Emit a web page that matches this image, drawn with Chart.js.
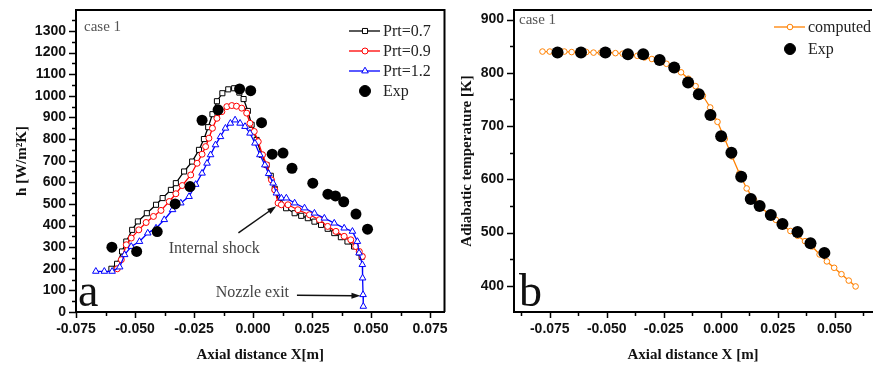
<!DOCTYPE html>
<html>
<head>
<meta charset="utf-8">
<script src="https://cdn.jsdelivr.net/npm/chart.js@4.4.1/dist/chart.umd.min.js"></script>
<style>
    html, body { margin: 0; padding: 0; background: #fff; }
    #wrap { position: relative; width: 878px; height: 366px; overflow: hidden; }
    canvas { position: absolute; top: 0; }
    #chartA { left: 0; }
    #chartB { left: 450px; }
</style>
</head>
<body>
<div id="wrap">
    <canvas id="chartA" width="450" height="366"></canvas>
    <canvas id="chartB" width="428" height="366"></canvas>
</div>
<script>
// ---- panel a : heat transfer coefficient ----
const prt07X = [-0.0600,-0.0576,-0.0555,-0.0537,-0.0512,-0.0488,-0.0450,-0.0411,-0.0383,-0.0348,-0.0327,-0.0292,-0.0258,-0.0229,-0.0208,-0.0190,-0.0172,-0.0153,-0.0130,-0.0105,-0.0080,-0.0058,-0.0040,-0.0022,-0.0006,0.0015,0.0036,0.0057,0.0075,0.0092,0.0113,0.0140,0.0176,0.0204,0.0232,0.0260,0.0288,0.0316,0.0344,0.0372,0.0400,0.0428,0.0449,0.0460];
const prt07Y = [200,223,280,326,380,419,457,496,527,565,596,650,696,750,800,855,915,975,1012,1030,1035,1015,985,930,866,796,727,680,630,570,504,480,457,445,434,418,403,385,365,346,326,303,275,255];

const prt09X = [-0.0575,-0.0558,-0.0537,-0.0516,-0.0484,-0.0453,-0.0422,-0.0390,-0.0355,-0.0327,-0.0300,-0.0264,-0.0237,-0.0216,-0.0201,-0.0187,-0.0172,-0.0153,-0.0132,-0.0111,-0.0090,-0.0070,-0.0048,-0.0027,-0.0013,0.0005,0.0022,0.0040,0.0057,0.0078,0.0092,0.0106,0.0120,0.0148,0.0190,0.0239,0.0281,0.0316,0.0351,0.0386,0.0414,0.0435,0.0450,0.0463];
const prt09Y = [200,242,311,342,380,414,442,470,511,547,585,634,688,730,765,804,850,896,927,950,955,952,943,920,873,835,788,727,681,611,565,504,496,496,473,450,427,396,373,350,334,303,280,257];

const prt12X = [-0.0666,-0.0630,-0.0597,-0.0565,-0.0544,-0.0516,-0.0481,-0.0446,-0.0411,-0.0376,-0.0341,-0.0306,-0.0271,-0.0243,-0.0216,-0.0195,-0.0180,-0.0159,-0.0138,-0.0117,-0.0096,-0.0076,-0.0055,-0.0034,-0.0013,0.0008,0.0029,0.0050,0.0066,0.0085,0.0099,0.0120,0.0141,0.0176,0.0218,0.0260,0.0302,0.0344,0.0386,0.0421,0.0442,0.0449,0.0463,0.0464,0.0466,0.0467];
const prt12Y = [188,188,188,208,265,303,326,365,388,427,473,504,534,590,642,688,727,773,811,850,873,888,873,858,827,781,727,680,640,596,550,527,527,504,481,457,434,411,388,373,326,273,219,157,80,26];

const expAX = [-0.0598,-0.0493,-0.0406,-0.0330,-0.0267,-0.0216,-0.0148,-0.0057,-0.0010,0.0036,0.0081,0.0127,0.0165,0.0253,0.0317,0.0349,0.0384,0.0436,0.0485];
const expAY = [300,280,372,500,580,887,935,1032,1024,876,730,735,665,596,545,537,510,453,383];

const xMajorA = [-0.075,-0.05,-0.025,0,0.025,0.05,0.075];
const xMinorA = [-0.0625,-0.0375,-0.0125,0.0125,0.0375,0.0625];
const yMajorA = [0,100,200,300,400,500,600,700,800,900,1000,1100,1200,1300];
const yMinorA = [50,150,250,350,450,550,650,750,850,950,1050,1150,1250,1350];

// ---- panel b : adiabatic wall temperature ----
const compX = [-0.0782,-0.0750,-0.0718,-0.0686,-0.0654,-0.0622,-0.0590,-0.0558,-0.0526,-0.0494,-0.0462,-0.0430,-0.0398,-0.0366,-0.0334,-0.0302,-0.0270,-0.0238,-0.0206,-0.0174,-0.0142,-0.0110,-0.0078,-0.0046,-0.0014,0.0018,0.0050,0.0082,0.0114,0.0146,0.0178,0.0210,0.0242,0.0274,0.0306,0.0338,0.0370,0.0402,0.0434,0.0466,0.0498,0.0530,0.0562,0.0592];
const compY = [840,840,840,840,839,839,839,838,838,838,837,836,834,832,829,826,822,817,810,801,789,775,757,735,708,676,643,611,583,562,547,535,524,513,503,494,484,474,459,446,434,422,410,399];

const expBX = [-0.0716,-0.0613,-0.0506,-0.0407,-0.0340,-0.0268,-0.0204,-0.0143,-0.0096,-0.0045,0.0002,0.0047,0.0090,0.0132,0.0171,0.0220,0.0271,0.0337,0.0394,0.0455];
const expBY = [838,838,838,835,835,824,810,782,760,721,681,650,605,563,550,533,516,501,480,462];

const xMajorB = [-0.075,-0.05,-0.025,0,0.025,0.05];
const xMinorB = [-0.0875,-0.0625,-0.0375,-0.0125,0.0125,0.0375,0.0625];
const yMajorB = [400,500,600,700,800,900];
const yMinorB = [450,550,650,750,850];

const SERIF = '"Liberation Serif", "Times New Roman", serif';
const SANS = '"Liberation Sans", Arial, sans-serif';

function toPoints(xs, ys) {
    return xs.map((x, i) => ({x: x, y: ys[i]}));
}

function tickList(major, minor) {
    let list = major.map(v => ({value: v, isMajor: true}))
        .concat(minor.map(v => ({value: v, isMajor: false})));
    list.sort((a, b) => a.value - b.value);
    return list;
}

function drawMarker(ctx, style, x, y, r, stroke, fill) {
    ctx.save();
    ctx.lineWidth = 1;
    ctx.strokeStyle = stroke;
    ctx.fillStyle = fill;
    ctx.beginPath();
    if (style === 'rect') {
        let s = r * Math.SQRT2 / 2;
        ctx.rect(x - s, y - s, 2 * s, 2 * s);
    } else if (style === 'triangle') {
        ctx.moveTo(x, y - r);
        ctx.lineTo(x + r * 0.87, y + r * 0.5);
        ctx.lineTo(x - r * 0.87, y + r * 0.5);
        ctx.closePath();
    } else {
        ctx.arc(x, y, r, 0, Math.PI * 2);
    }
    ctx.fill();
    ctx.stroke();
    ctx.restore();
}

function drawArrow(ctx, x1, y1, x2, y2) {
    let ang = Math.atan2(y2 - y1, x2 - x1);
    ctx.save();
    ctx.strokeStyle = '#111';
    ctx.fillStyle = '#111';
    ctx.lineWidth = 1.5;
    ctx.beginPath();
    ctx.moveTo(x1, y1);
    ctx.lineTo(x2 - 6 * Math.cos(ang), y2 - 6 * Math.sin(ang));
    ctx.stroke();
    ctx.beginPath();
    ctx.moveTo(x2, y2);
    ctx.lineTo(x2 - 9 * Math.cos(ang) + 3 * Math.sin(ang), y2 - 9 * Math.sin(ang) - 3 * Math.cos(ang));
    ctx.lineTo(x2 - 9 * Math.cos(ang) - 3 * Math.sin(ang), y2 - 9 * Math.sin(ang) + 3 * Math.cos(ang));
    ctx.closePath();
    ctx.fill();
    ctx.restore();
}

// frame, minor/major tick marks, notes and legend
function makeDeco(cfg) {
    return {
        id: 'deco',
        afterDraw(chart) {
            const {ctx, chartArea: a, scales: {x, y}} = chart;
            ctx.save();
            ctx.strokeStyle = '#000';
            ctx.lineWidth = 2;
            ctx.beginPath();
            ctx.moveTo(a.left, a.top);
            ctx.lineTo(a.right, a.top);
            if (cfg.rightBorder) ctx.lineTo(a.right, a.bottom);
            ctx.stroke();

            ctx.lineWidth = 1.5;
            ctx.beginPath();
            x.ticks.forEach(t => {
                let px = Math.round(x.getPixelForValue(t.value)) + 0.5;
                ctx.moveTo(px, a.bottom);
                ctx.lineTo(px, a.bottom + (t.isMajor ? 6 : 4));
            });
            y.ticks.forEach(t => {
                let py = Math.round(y.getPixelForValue(t.value)) + 0.5;
                ctx.moveTo(a.left, py);
                ctx.lineTo(a.left - (t.isMajor ? 7 : 4), py);
            });
            ctx.stroke();

            ctx.textBaseline = 'middle';
            ctx.textAlign = 'left';
            cfg.notes.forEach(n => {
                ctx.font = n.font;
                ctx.fillStyle = n.color;
                ctx.fillText(n.text, a.left + n.dx, a.top + n.dy);
            });
            (cfg.dataNotes || []).forEach(n => {
                ctx.font = n.font;
                ctx.fillStyle = n.color;
                ctx.fillText(n.text, x.getPixelForValue(n.x), y.getPixelForValue(n.y));
            });
            (cfg.arrows || []).forEach(r => {
                drawArrow(ctx, x.getPixelForValue(r[0]), y.getPixelForValue(r[1]),
                    x.getPixelForValue(r[2]), y.getPixelForValue(r[3]));
            });

            // legend (canvas coordinates)
            const lg = cfg.legend;
            chart.data.datasets.forEach((ds, i) => {
                let ly = lg.y + i * lg.gap;
                let mx = lg.x + 16;
                if (ds.showLine) {
                    ctx.strokeStyle = ds.borderColor;
                    ctx.lineWidth = ds.borderWidth;
                    ctx.beginPath();
                    ctx.moveTo(lg.x, ly);
                    ctx.lineTo(lg.x + 31, ly);
                    ctx.stroke();
                }
                let r = ds.showLine ? ds.pointRadius : 5.5;
                drawMarker(ctx, ds.pointStyle, mx, ly, r, ds.pointBorderColor, ds.pointBackgroundColor);
                ctx.font = '16px ' + SERIF;
                ctx.fillStyle = '#222';
                ctx.fillText(ds.label, lg.x + 34, ly + 1);
            });
            ctx.restore();
        }
    };
}

function lineSet(label, xs, ys, color, style, radius, order) {
    return {
        label: label,
        data: toPoints(xs, ys),
        showLine: true,
        borderColor: color,
        borderWidth: 1.3,
        pointStyle: style,
        pointRadius: radius,
        pointBorderWidth: 1,
        pointBorderColor: color,
        pointBackgroundColor: '#fff',
        order: order
    };
}

function expSet(xs, ys, radius) {
    return {
        label: 'Exp',
        data: toPoints(xs, ys),
        showLine: false,
        pointStyle: 'circle',
        pointRadius: radius,
        pointBorderWidth: 0,
        pointBorderColor: '#000',
        pointBackgroundColor: '#000',
        order: 0
    };
}

function axisX(min, max, major, minor, title) {
    return {
        type: 'linear',
        min: min,
        max: max,
        afterBuildTicks: s => { s.ticks = tickList(major, minor); },
        afterFit: s => { s.height = 54; s.paddingLeft = 0; s.paddingRight = 0; },
        grid: {display: false, drawTicks: false},
        border: {display: true, color: '#000', width: 2},
        ticks: {
            autoSkip: false,
            maxRotation: 0,
            padding: 9,
            color: '#111',
            font: {family: SANS, size: 14, weight: 'bold'},
            callback: (v, i, ticks) => ticks[i].isMajor ? v.toFixed(3) : ''
        },
        title: {
            display: true,
            text: title,
            color: '#111',
            font: {family: SERIF, size: 15, weight: 'bold'},
            padding: {top: 0, bottom: 2}
        }
    };
}

function axisY(min, max, major, minor, width, title, gap) {
    return {
        type: 'linear',
        min: min,
        max: max,
        afterBuildTicks: s => { s.ticks = tickList(major, minor); },
        afterFit: s => { s.width = width; s.paddingTop = 0; s.paddingBottom = 0; },
        grid: {display: false, drawTicks: false},
        border: {display: true, color: '#000', width: 2},
        ticks: {
            autoSkip: false,
            padding: 10,
            color: '#111',
            font: {family: SANS, size: 14, weight: 'bold'},
            callback: (v, i, ticks) => ticks[i].isMajor ? String(v) : ''
        },
        title: {
            display: true,
            text: title,
            color: '#111',
            font: {family: SERIF, size: 15, weight: 'bold'},
            padding: {top: gap, bottom: 0}
        }
    };
}

const common = {
    responsive: false,
    animation: false,
    events: [],
    devicePixelRatio: 1,
    plugins: {legend: {display: false}, tooltip: {enabled: false}}
};

new Chart(document.getElementById('chartA'), {
    type: 'scatter',
    data: {
        datasets: [
            lineSet('Prt=0.7', prt07X, prt07Y, '#000000', 'rect', 3.6, 3),
            lineSet('Prt=0.9', prt09X, prt09Y, '#ff0000', 'circle', 3, 2),
            lineSet('Prt=1.2', prt12X, prt12Y, '#0000ff', 'triangle', 3.8, 1),
            expSet(expAX, expAY, 5.5)
        ]
    },
    options: Object.assign({}, common, {
        layout: {padding: {left: 0, right: 2, top: 10, bottom: 0}},
        scales: {
            x: axisX(-0.075, 0.0811, xMajorA, xMinorA, 'Axial distance X[m]'),
            y: axisY(0, 1397, yMajorA, yMinorA, 76, 'h [W/m\u00B2K]', 13)
        }
    }),
    plugins: [makeDeco({
        rightBorder: true,
        notes: [
            {text: 'case 1', dx: 8, dy: 17, font: '15px ' + SERIF, color: '#555'},
            {text: 'a', dx: 2, dy: 284, font: '46px ' + SERIF, color: '#111'}
        ],
        dataNotes: [
            {text: 'Internal shock', x: -0.0357, y: 292, font: '16px ' + SERIF, color: '#444'},
            {text: 'Nozzle exit', x: -0.0158, y: 91, font: '16px ' + SERIF, color: '#444'}
        ],
        arrows: [
            [-0.0062, 366, 0.0098, 489],
            [0.0186, 77, 0.0455, 75]
        ],
        legend: {x: 349, y: 31, gap: 20}
    })]
});

new Chart(document.getElementById('chartB'), {
    type: 'scatter',
    data: {
        datasets: [
            lineSet('computed', compX, compY, '#ff8000', 'circle', 2.8, 1),
            expSet(expBX, expBY, 6)
        ]
    },
    options: Object.assign({}, common, {
        layout: {padding: {left: 0, right: 0, top: 10, bottom: 0}},
        scales: {
            x: axisX(-0.0907, 0.0664, xMajorB, xMinorB, 'Axial distance X [m]'),
            y: axisY(351, 918, yMajorB, yMinorB, 64, 'Adiabatic temperature [K]', 8)
        }
    }),
    plugins: [makeDeco({
        rightBorder: false,
        notes: [
            {text: 'case 1', dx: 5, dy: 10, font: '15px ' + SERIF, color: '#555'},
            {text: 'b', dx: 5, dy: 284, font: '46px ' + SERIF, color: '#111'}
        ],
        legend: {x: 324, y: 27, gap: 22}
    })]
});
</script>
</body>
</html>
